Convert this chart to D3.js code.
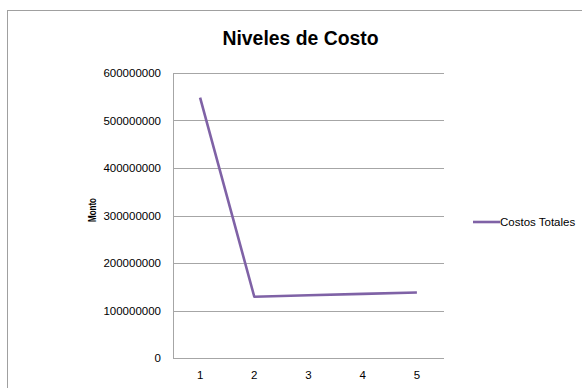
<!DOCTYPE html>
<html>
<head>
<meta charset="utf-8">
<script src="https://cdn.jsdelivr.net/npm/d3@7"></script>
<style>
  html, body { margin: 0; padding: 0; background: #fff; }
  svg { display: block; }
</style>
</head>
<body>
<svg id="chart" width="582" height="388"></svg>
<script>
// Cost level per stage
const categories = ["1", "2", "3", "4", "5"];
const costosTotales = [548000000, 129000000, 132000000, 135000000, 138000000];
const yTicks = [0, 100000000, 200000000, 300000000, 400000000, 500000000, 600000000];
const seriesName = "Costos Totales";
const chartTitle = "Niveles de Costo";
const yAxisTitle = "Monto";

const svg = d3.select("#chart");
const font = "'Liberation Sans', Arial, sans-serif";
const gridColor = "#a6a6a6";
const lineColor = "#7f62a6";

// Chart area frame
svg.append("rect")
  .attr("x", 7.5).attr("y", 10.5)
  .attr("width", 600).attr("height", 400)
  .attr("fill", "#fff")
  .attr("stroke", "#a0a0a0").attr("stroke-width", 1);

const plot = { left: 173, right: 444, top: 73, bottom: 358 };

const x = d3.scaleBand().domain(categories).range([plot.left, plot.right]);
const y = d3.scaleLinear().domain([0, 600000000]).range([plot.bottom, plot.top]);
const cx = d => x(d) + x.bandwidth() / 2;

// Title
svg.append("text")
  .attr("x", 300.5).attr("y", 44.5)
  .attr("text-anchor", "middle")
  .attr("font-family", font).attr("font-weight", "bold").attr("font-size", 19.5)
  .attr("textLength", 156).attr("lengthAdjust", "spacingAndGlyphs")
  .attr("fill", "#000")
  .text(chartTitle);

// Horizontal gridlines
svg.append("g").selectAll("line").data(yTicks).join("line")
  .attr("x1", plot.left).attr("x2", plot.right)
  .attr("y1", d => Math.round(y(d)) + 0.5).attr("y2", d => Math.round(y(d)) + 0.5)
  .attr("stroke", gridColor).attr("stroke-width", 1);

// Y axis line
svg.append("line")
  .attr("x1", plot.left + 0.5).attr("x2", plot.left + 0.5)
  .attr("y1", plot.top).attr("y2", plot.bottom + 0.5)
  .attr("stroke", gridColor).attr("stroke-width", 1);

// Y tick labels
svg.append("g").selectAll("text").data(yTicks).join("text")
  .attr("x", 161).attr("y", d => y(d) + 4)
  .attr("text-anchor", "end")
  .attr("font-family", font).attr("font-size", 11.5)
  .attr("fill", "#000")
  .text(d => d3.format("d")(d));

// X tick labels
svg.append("g").selectAll("text").data(categories).join("text")
  .attr("x", d => cx(d)).attr("y", 379)
  .attr("text-anchor", "middle")
  .attr("font-family", font).attr("font-size", 11.5)
  .attr("fill", "#000")
  .text(d => d);

// Y axis title
svg.append("text")
  .attr("transform", "translate(96,210) rotate(-90)")
  .attr("text-anchor", "middle")
  .attr("font-family", font).attr("font-weight", "bold").attr("font-size", 10.5)
  .attr("textLength", 24).attr("lengthAdjust", "spacingAndGlyphs")
  .attr("fill", "#000")
  .text(yAxisTitle);

// Series line
const line = d3.line()
  .x((d, i) => cx(categories[i]))
  .y(d => y(d));

svg.append("path")
  .datum(costosTotales)
  .attr("d", line)
  .attr("fill", "none")
  .attr("stroke", lineColor)
  .attr("stroke-width", 2.6)
  .attr("stroke-linejoin", "round");

// Legend
svg.append("line")
  .attr("x1", 473).attr("x2", 500)
  .attr("y1", 222).attr("y2", 222)
  .attr("stroke", lineColor).attr("stroke-width", 2.6);
svg.append("text")
  .attr("x", 500).attr("y", 226)
  .attr("font-family", font).attr("font-size", 11.5)
  .attr("fill", "#000")
  .text(seriesName);
</script>
</body>
</html>
